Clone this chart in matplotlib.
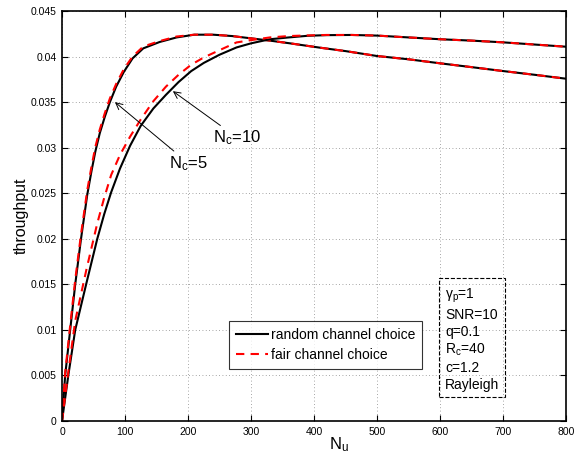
"""Throughput vs number of users for random and fair channel choice."""

import matplotlib

matplotlib.use("Agg")
import matplotlib.pyplot as plt
from matplotlib.ticker import FuncFormatter, MultipleLocator

plt.rcParams["font.family"] = ["Liberation Sans", "DejaVu Sans"]
plt.rcParams["mathtext.fontset"] = "custom"
plt.rcParams["mathtext.rm"] = "Liberation Sans"
plt.rcParams["mathtext.it"] = "Liberation Sans:italic"

# N_c = 5 curves
nu_5 = [0, 5, 13, 21, 30, 40, 47, 53, 60, 68, 76, 86, 98, 112, 129, 155, 182,
        210, 240, 270, 300, 330, 362, 410, 450, 500, 550, 600, 650, 700, 750, 800]
random_5 = [0, 0.005, 0.010, 0.015, 0.0199, 0.0248, 0.0275, 0.0296, 0.0316,
            0.0334, 0.0350, 0.0367, 0.0383, 0.0398, 0.0409, 0.0416, 0.0421,
            0.0424, 0.0424, 0.04225, 0.0420, 0.04175, 0.04145, 0.04097, 0.0406,
            0.04006, 0.0397, 0.03926, 0.03884, 0.03841, 0.0380, 0.03757]
fair_5 = [0, 0.0053, 0.0105, 0.0155, 0.0204, 0.0253, 0.0280, 0.0301, 0.0320,
          0.0338, 0.0354, 0.0370, 0.0386, 0.0400, 0.0411, 0.0417, 0.0422,
          0.0424, 0.0424, 0.04225, 0.0420, 0.04175, 0.04145, 0.04097, 0.0406,
          0.04006, 0.0397, 0.03926, 0.03884, 0.03841, 0.0380, 0.03757]

# N_c = 10 curves
nu_10 = [0, 10, 21, 39, 56, 67, 78, 92, 108, 125, 145, 165, 185, 205, 225, 250,
         277, 300, 330, 360, 390, 420, 460, 500, 550, 600, 650, 700, 750, 800]
random_10 = [0, 0.0050, 0.0100, 0.0152, 0.0200, 0.0227, 0.0251, 0.0277, 0.0302,
             0.0324, 0.0343, 0.0358, 0.0372, 0.0384, 0.0393, 0.0402, 0.0410,
             0.04145, 0.0419, 0.0421, 0.04228, 0.04235, 0.04237, 0.0423, 0.0421,
             0.0419, 0.04175, 0.04156, 0.04132, 0.04108]
fair_10 = [0, 0.0054, 0.0110, 0.0167, 0.0217, 0.0245, 0.0270, 0.0292, 0.0312,
           0.0331, 0.0351, 0.0367, 0.0380, 0.0391, 0.0399, 0.0407, 0.04155,
           0.0418, 0.0421, 0.04225, 0.04232, 0.04237, 0.04237, 0.0423, 0.0421,
           0.0419, 0.04175, 0.04156, 0.04132, 0.04108]

legend_labels = ["random channel choice", "fair channel choice"]
param_lines = ["γ$_{\\rm p}$=1", "SNR=10", "q=0.1", "R$_{\\rm c}$=40",
               "c=1.2", "Rayleigh"]

fig = plt.figure(figsize=(5.79, 4.59), dpi=100)
ax = fig.add_axes([62 / 579, 1 - 421 / 459, 504 / 579, 410 / 459])

dash = (0, (4, 3))
ax.plot(nu_5, random_5, color="black", lw=1.5, label=legend_labels[0])
ax.plot(nu_5, fair_5, color="red", lw=1.5, ls=dash, label=legend_labels[1])
ax.plot(nu_10, random_10, color="black", lw=1.5)
ax.plot(nu_10, fair_10, color="red", lw=1.5, ls=dash)

ax.set_xlim(0, 800)
ax.set_ylim(0, 0.045)
ax.xaxis.set_major_locator(MultipleLocator(100))
ax.yaxis.set_major_locator(MultipleLocator(0.005))
ax.yaxis.set_major_formatter(FuncFormatter(lambda v, p: f"{v:g}"))
ax.tick_params(direction="in", length=4, width=0.8, labelsize=7.5,
               top=True, right=True, pad=4)
ax.grid(True, ls=(0, (1, 3)), color="#888888", lw=0.6)
for sp in ax.spines.values():
    sp.set_linewidth(1.2)

ax.set_xlabel("N$_{\\rm u}$", fontsize=12, labelpad=-1)
ax.xaxis.label.set_x(0.55)
ax.set_ylabel("throughput", fontsize=11.5, labelpad=1)

arrow = dict(arrowstyle="->", color="black", lw=0.7, shrinkA=0, shrinkB=0)
ax.annotate("N$_{\\rm c}$=10", xy=(176, 0.0362), xytext=(240, 0.0311),
            fontsize=12, ha="left", va="center", arrowprops=arrow)
ax.annotate("N$_{\\rm c}$=5", xy=(84, 0.0350), xytext=(170, 0.0283),
            fontsize=12, ha="left", va="center", arrowprops=arrow)

leg = ax.legend(loc="upper left", bbox_to_anchor=((229 - 62) / 504, (421 - 321) / 410),
                fontsize=10, frameon=True, fancybox=False, edgecolor="black",
                handlelength=2.3, handletextpad=0.2, borderpad=0.5,
                labelspacing=0.45, borderaxespad=0)
leg.get_frame().set_linewidth(0.8)

ax.text(608, 0.0147, "\n".join(param_lines), fontsize=10, ha="left", va="top",
        linespacing=1.25,
        bbox=dict(boxstyle="square,pad=0.4", fill=False, ls="--", lw=0.8,
                  edgecolor="black"))

fig.savefig("out.png", dpi=100)
